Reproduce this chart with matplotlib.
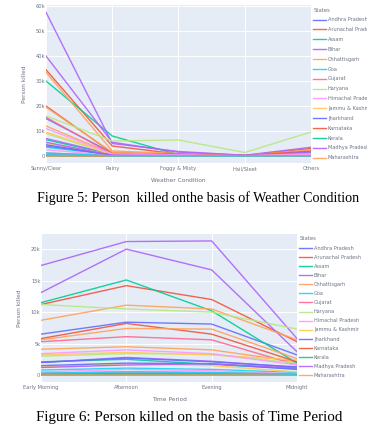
import matplotlib.pyplot as plt
import numpy as np
from matplotlib.transforms import Bbox, TransformedBbox

# plotly default palette, cycled over the states
palette = ['#636EFA', '#EF553B', '#00CC96', '#AB63FA', '#FFA15A',
           '#19D3F3', '#FF6692', '#B6E880', '#FF97FF', '#FECB52']

states = ['Andhra Pradesh', 'Arunachal Pradesh', 'Assam', 'Bihar', 'Chhattisgarh',
          'Goa', 'Gujarat', 'Haryana', 'Himachal Pradesh', 'Jammu & Kashmir',
          'Jharkhand', 'Karnataka', 'Kerala', 'Madhya Pradesh', 'Maharashtra',
          'Manipur', 'Meghalaya', 'Mizoram', 'Nagaland', 'Odisha',
          'Punjab', 'Rajasthan', 'Sikkim', 'Tamil Nadu', 'Telangana',
          'Tripura', 'Uttarakhand', 'Uttar Pradesh', 'West Bengal', 'Andaman & Nicobar',
          'Chandigarh', 'Dadra & Nagar Haveli', 'Daman & Diu', 'Delhi', 'Lakshadweep',
          'Puducherry']

weather = ['Sunny/Clear', 'Rainy', 'Foggy & Misty', 'Hail/Sleet', 'Others']
killed_weather = [
    [15000, 1200, 700, 150, 1500],
    [150, 20, 10, 0, 10],
    [6500, 600, 300, 50, 800],
    [7000, 700, 600, 100, 1500],
    [12000, 900, 200, 50, 1000],
    [3500, 500, 50, 0, 100],
    [15500, 700, 200, 30, 1500],
    [9000, 600, 800, 100, 500],
    [2500, 300, 80, 30, 100],
    [5000, 600, 200, 100, 300],
    [4000, 500, 200, 50, 300],
    [34500, 4000, 800, 200, 3000],
    [30000, 8000, 500, 100, 1500],
    [40000, 5500, 1500, 300, 3500],
    [33500, 2000, 1000, 200, 2500],
    [500, 50, 10, 0, 20],
    [200, 50, 30, 0, 10],
    [50, 10, 0, 0, 10],
    [100, 20, 0, 0, 5],
    [9500, 800, 400, 50, 500],
    [4500, 300, 600, 50, 400],
    [20000, 1200, 700, 200, 2000],
    [150, 30, 10, 0, 5],
    [57500, 5000, 1800, 300, 1500],
    [19500, 1500, 300, 50, 1000],
    [400, 50, 10, 0, 20],
    [1200, 200, 50, 20, 100],
    [16000, 6000, 6400, 1400, 9600],
    [11000, 800, 500, 100, 700],
    [150, 20, 0, 0, 10],
    [200, 30, 10, 0, 10],
    [80, 10, 0, 0, 5],
    [50, 10, 0, 0, 5],
    [5500, 300, 200, 20, 100],
    [2, 0, 0, 0, 0],
    [1200, 100, 10, 0, 50],
]

periods = ['Early Morning', 'Afternoon', 'Evening', 'Midnight']
killed_time = [
    [6500, 8400, 8100, 3200],
    [50, 80, 60, 20],
    [2100, 2500, 1700, 1000],
    [2000, 2800, 2200, 1200],
    [4100, 4500, 4000, 2100],
    [800, 1100, 900, 400],
    [5300, 6100, 5600, 1600],
    [3000, 3400, 3300, 1900],
    [500, 900, 700, 200],
    [1300, 1800, 1500, 500],
    [2000, 2700, 2100, 1300],
    [11200, 14200, 12000, 5300],
    [11500, 15100, 10200, 1900],
    [13100, 20000, 16700, 3700],
    [8700, 11100, 10500, 5600],
    [150, 250, 200, 50],
    [100, 200, 150, 40],
    [30, 50, 40, 10],
    [60, 100, 80, 20],
    [3200, 3600, 3200, 2400],
    [1500, 1900, 1800, 900],
    [5800, 8200, 6500, 2100],
    [40, 70, 50, 10],
    [17400, 21200, 21300, 5800],
    [5600, 7400, 7300, 2600],
    [150, 250, 200, 60],
    [300, 500, 400, 100],
    [11200, 10500, 10000, 7300],
    [3400, 4000, 3400, 1600],
    [50, 80, 60, 20],
    [100, 150, 120, 50],
    [30, 50, 40, 10],
    [20, 40, 30, 10],
    [1200, 1600, 1800, 1100],
    [0, 1, 1, 0],
    [300, 500, 400, 150],
]

W, H = 392, 432
BG = '#E5ECF6'
TXT = '#6b7384'


def px_axes(fig, left, top, right, bottom):
    return fig.add_axes([left / W, 1 - bottom / H, (right - left) / W, (bottom - top) / H])


def k_fmt(v, pos):
    return '0' if v == 0 else '%dk' % (v / 1000)


def draw_panel(ax, cats, data, xlabel, yticks):
    x = np.arange(len(cats))
    handles = []
    for i, row in enumerate(data):
        h, = ax.plot(x, row, color=palette[i % len(palette)], lw=1.0, alpha=0.9)
        handles.append(h)
    ax.set_facecolor(BG)
    for s in ax.spines.values():
        s.set_visible(False)
    ax.grid(True, color='white', lw=0.7)
    ax.set_axisbelow(True)
    ax.set_xticks(x)
    ax.set_xticklabels(cats)
    ax.set_yticks(yticks)
    ax.yaxis.set_major_formatter(plt.FuncFormatter(k_fmt))
    ax.tick_params(axis='y', length=0, labelsize=3.7, labelcolor=TXT, pad=0.5)
    ax.tick_params(axis='x', length=0, labelsize=3.7, labelcolor=TXT, pad=2.5)
    ax.set_xlabel(xlabel, fontsize=4.2, color=TXT, labelpad=5)
    ax.set_ylabel('Person killed', fontsize=4.2, color=TXT, labelpad=6)
    return handles


def add_legend(fig, ax, handles, spacing, clip_right=None):
    leg = ax.legend(handles[:15], states[:15], title='States', loc='upper left',
                    bbox_to_anchor=(1.0, 1.0), frameon=False, fontsize=3.6,
                    title_fontsize=3.8, handlelength=2.5, handletextpad=0.4,
                    labelspacing=spacing, borderaxespad=0.3, borderpad=0.2)
    leg._legend_box.align = 'left'
    for t in leg.get_texts() + [leg.get_title()]:
        t.set_color(TXT)
        if clip_right is not None:
            t.set_clip_box(TransformedBbox(Bbox([[0, 0], [clip_right / W, 1]]), fig.transFigure))
            t.set_clip_on(True)
    return leg


fig = plt.figure(figsize=(W / 100, H / 100), dpi=100)

# Figure 5: weather condition
ax1 = px_axes(fig, 46, 5, 311, 163)
h1 = draw_panel(ax1, weather, killed_weather, 'Weather Condition',
                np.arange(0, 60001, 10000))
ax1.set_xlim(0, 4)
ax1.set_ylim(-2800, 60400)
add_legend(fig, ax1, h1, 0.97, clip_right=367)

# Figure 6: time period
ax2 = px_axes(fig, 41, 234, 297, 382)
h2 = draw_panel(ax2, periods, killed_time, 'Time Period',
                np.arange(0, 20001, 5000))
ax2.set_xlim(0, 3)
ax2.set_ylim(-1100, 22400)
add_legend(fig, ax2, h2, 0.82)

serif = ['Liberation Serif', 'DejaVu Serif']
fig.text(198 / W, 1 - 198 / H, 'Figure 5: Person  killed onthe basis of Weather Condition',
         ha='center', va='center', fontsize=10.1, family=serif)
fig.text(189 / W, 1 - 417 / H, 'Figure 6: Person killed on the basis of Time Period',
         ha='center', va='center', fontsize=10.8, family=serif)

fig.savefig('out.png', dpi=100)
